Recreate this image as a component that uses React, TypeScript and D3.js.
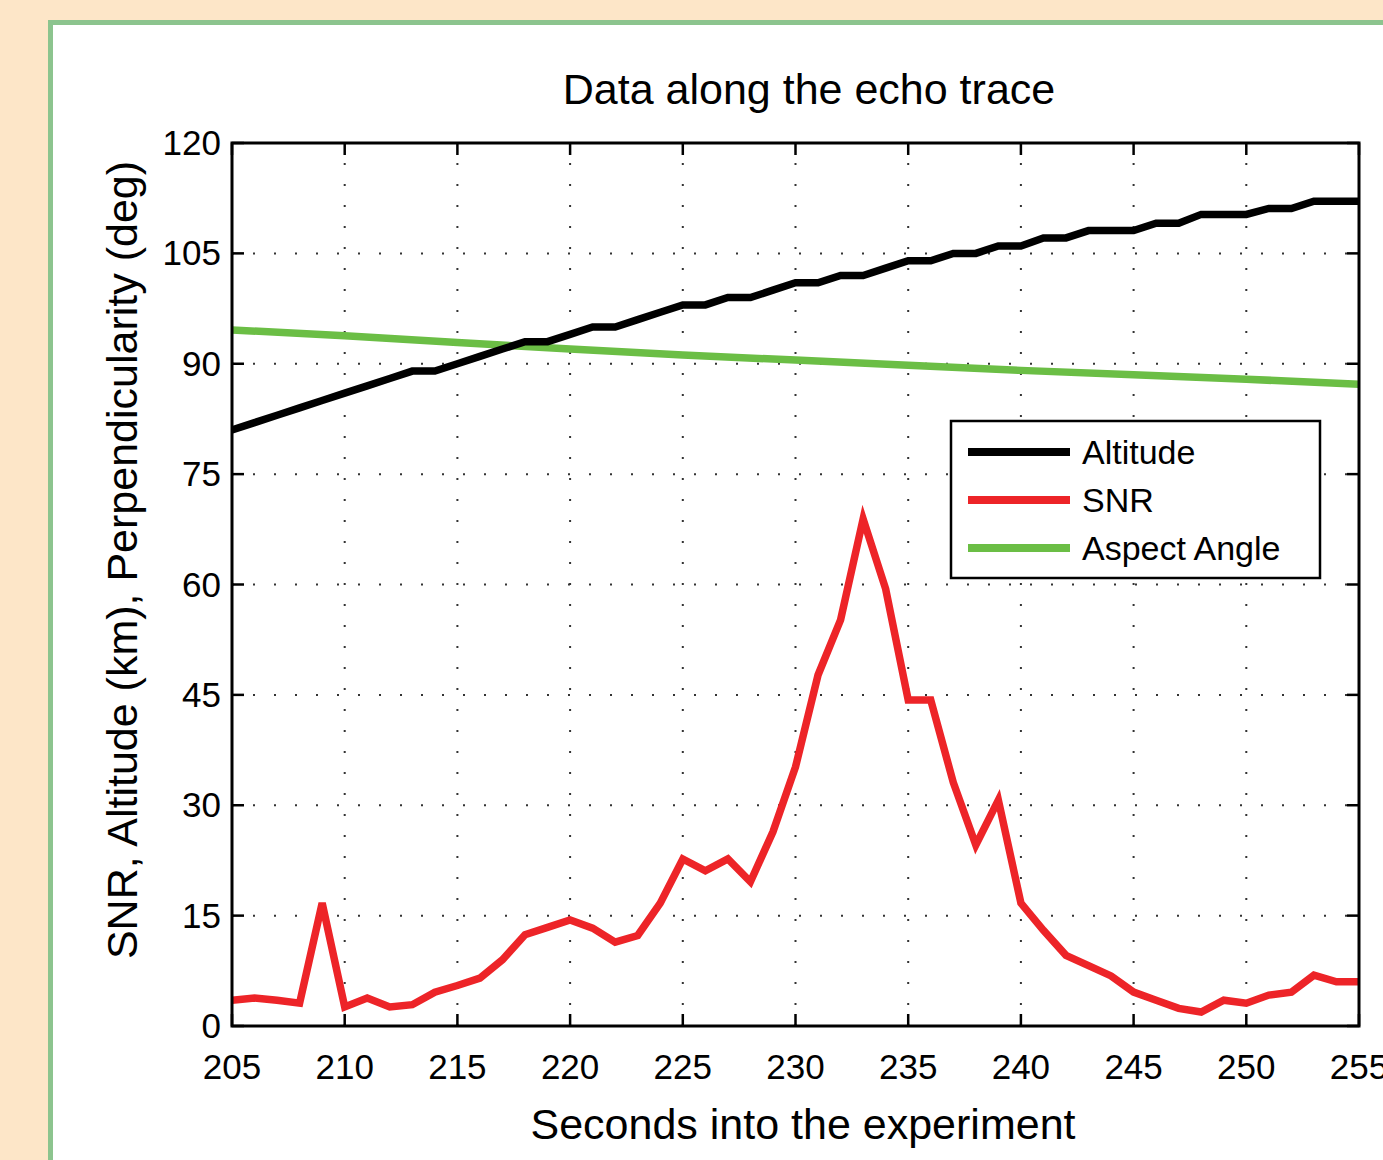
import React, { useEffect, useRef } from "react";
import * as d3 from "d3";

const seconds = [
  205, 206, 207, 208, 209, 210, 211, 212, 213, 214, 215, 216, 217, 218, 219, 220, 221,
  222, 223, 224, 225, 226, 227, 228, 229, 230, 231, 232, 233, 234, 235, 236, 237, 238,
  239, 240, 241, 242, 243, 244, 245, 246, 247, 248, 249, 250, 251, 252, 253, 254, 255,
];
const altitude = [
  81, 82, 83, 84, 85, 86, 87, 88, 89, 89, 90, 91, 92, 93, 93, 94, 95,
  95, 96, 97, 98, 98, 99, 99, 100, 101, 101, 102, 102, 103, 104, 104, 105, 105,
  106, 106, 107.1, 107.1, 108.1, 108.1, 108.1, 109.1, 109.1, 110.3, 110.3, 110.3, 111.1, 111.1, 112.1, 112.1, 112.1,
];
const snr = [
  3.5, 3.8, 3.5, 3.1, 16.7, 2.6, 3.8, 2.6, 2.9, 4.6, 5.5, 6.5, 9.0, 12.4, 13.4, 14.4, 13.3,
  11.4, 12.3, 16.7, 22.7, 21.1, 22.7, 19.6, 26.4, 35.2, 47.7, 55.2, 68.9, 59.4, 44.3, 44.3, 33.1, 24.6,
  30.7, 16.7, 13.0, 9.6, 8.2, 6.8, 4.6, 3.5, 2.4, 1.9, 3.5, 3.1, 4.2, 4.6, 6.9, 6.0, 6.0,
];
const aspectSeconds = [205, 210, 215, 220, 225, 230, 235, 240, 245, 250, 255];
const aspectAngle = [94.6, 93.8, 92.9, 92.0, 91.2, 90.5, 89.8, 89.1, 88.5, 87.9, 87.2];

const xTicks = [205, 210, 215, 220, 225, 230, 235, 240, 245, 250, 255];
const yTicks = [0, 15, 30, 45, 60, 75, 90, 105, 120];

const legendItems = [
  { label: "Altitude", color: "#000000" },
  { label: "SNR", color: "#ED2428" },
  { label: "Aspect Angle", color: "#6BBE45" },
];

export default function App() {
  const ref = useRef<SVGSVGElement | null>(null);

  useEffect(() => {
    if (!ref.current) return;
    const svg = d3.select(ref.current);
    svg.selectAll("*").remove();

    const width = 1383;
    const height = 1160;
    const font = "'Liberation Sans', Arial, Helvetica, sans-serif";

    // page background and the framed panel
    svg.append("rect").attr("width", width).attr("height", height).attr("fill", "#FDE6C8");
    svg.append("rect")
      .attr("x", 50.5).attr("y", 22.5)
      .attr("width", 1400).attr("height", 1200)
      .attr("fill", "#ffffff").attr("stroke", "#8CC48E").attr("stroke-width", 5);

    const left = 232, right = 1359, top = 143, bottom = 1026;
    const x = d3.scaleLinear().domain([205, 255]).range([left, right]);
    const y = d3.scaleLinear().domain([0, 120]).range([bottom, top]);

    // dotted grid
    const grid = svg.append("g").attr("stroke", "#333").attr("stroke-width", 2)
      .attr("stroke-dasharray", "2,19");
    xTicks.slice(1, -1).forEach((t) => {
      grid.append("line").attr("x1", x(t)).attr("x2", x(t)).attr("y1", bottom).attr("y2", top);
    });
    yTicks.slice(1, -1).forEach((t) => {
      grid.append("line").attr("x1", left).attr("x2", right).attr("y1", y(t)).attr("y2", y(t));
    });

    // axis ticks (inward, all four sides)
    const ticks = svg.append("g").attr("stroke", "#000").attr("stroke-width", 2.5);
    const tl = 12;
    xTicks.forEach((t) => {
      ticks.append("line").attr("x1", x(t)).attr("x2", x(t)).attr("y1", bottom).attr("y2", bottom - tl);
      ticks.append("line").attr("x1", x(t)).attr("x2", x(t)).attr("y1", top).attr("y2", top + tl);
    });
    yTicks.forEach((t) => {
      ticks.append("line").attr("x1", left).attr("x2", left + tl).attr("y1", y(t)).attr("y2", y(t));
      ticks.append("line").attr("x1", right).attr("x2", right - tl).attr("y1", y(t)).attr("y2", y(t));
    });

    // lines
    const clip = svg.append("clipPath").attr("id", "plotclip");
    clip.append("rect").attr("x", left).attr("y", top).attr("width", right - left).attr("height", bottom - top);
    const plot = svg.append("g").attr("clip-path", "url(#plotclip)");

    const line = d3.line<[number, number]>().x((d) => x(d[0])).y((d) => y(d[1]));
    const zip = (a: number[], b: number[]) => a.map((v, i) => [v, b[i]] as [number, number]);

    plot.append("path").attr("d", line(zip(aspectSeconds, aspectAngle)))
      .attr("fill", "none").attr("stroke", legendItems[2].color).attr("stroke-width", 7.5);
    plot.append("path").attr("d", line(zip(seconds, altitude)))
      .attr("fill", "none").attr("stroke", legendItems[0].color).attr("stroke-width", 7.5);
    plot.append("path").attr("d", line(zip(seconds, snr)))
      .attr("fill", "none").attr("stroke", legendItems[1].color).attr("stroke-width", 7.5);

    // axis box
    svg.append("rect").attr("x", left).attr("y", top).attr("width", right - left).attr("height", bottom - top)
      .attr("fill", "none").attr("stroke", "#000").attr("stroke-width", 3);

    // tick labels
    const labels = svg.append("g").attr("font-family", font).attr("font-size", 35).attr("fill", "#000");
    xTicks.forEach((t) => {
      labels.append("text").attr("x", x(t)).attr("y", bottom + 53).attr("text-anchor", "middle").text(t);
    });
    yTicks.forEach((t) => {
      labels.append("text").attr("x", left - 11).attr("y", y(t) + 12).attr("text-anchor", "end").text(t);
    });

    // titles
    svg.append("text").attr("x", 809).attr("y", 104).attr("text-anchor", "middle")
      .attr("font-family", font).attr("font-size", 43).text("Data along the echo trace");
    svg.append("text").attr("x", 803).attr("y", 1139).attr("text-anchor", "middle")
      .attr("font-family", font).attr("font-size", 43).text("Seconds into the experiment");
    svg.append("text").attr("transform", `translate(137,560) rotate(-90)`)
      .attr("text-anchor", "middle").attr("font-family", font).attr("font-size", 43)
      .text("SNR, Altitude (km), Perpendicularity (deg)");

    // legend
    const lg = svg.append("g").attr("transform", "translate(951,421)");
    lg.append("rect").attr("width", 369).attr("height", 157).attr("fill", "#fff")
      .attr("stroke", "#000").attr("stroke-width", 2.5);
    legendItems.forEach((item, i) => {
      const ly = 31 + i * 48;
      lg.append("line").attr("x1", 17).attr("x2", 119).attr("y1", ly).attr("y2", ly)
        .attr("stroke", item.color).attr("stroke-width", 8);
      lg.append("text").attr("x", 131).attr("y", ly + 12).attr("font-family", font)
        .attr("font-size", 34).text(item.label);
    });
  }, []);

  return (
    <svg ref={ref} width={1383} height={1160}
      style={{ position: "absolute", left: 0, top: 0, display: "block" }} />
  );
}
